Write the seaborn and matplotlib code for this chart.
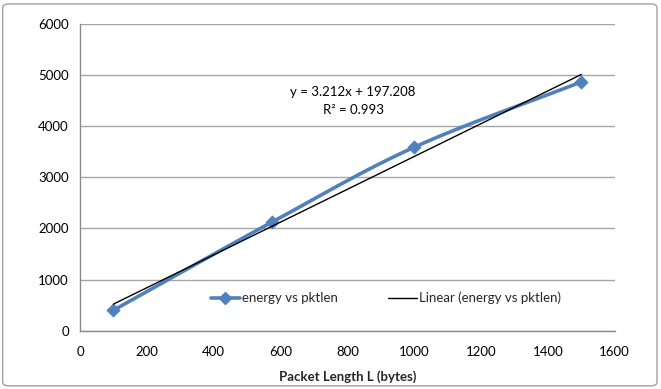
import numpy as np
import pandas as pd
import matplotlib
matplotlib.use("Agg")
import matplotlib.pyplot as plt
import seaborn as sns
from matplotlib.lines import Line2D
from matplotlib.patches import FancyBboxPatch

# ---- data ----
pkt_len = [100, 576, 1000, 1500]
energy = [400, 2130, 3590, 4870]
series_name = "energy vs pktlen"
trend_name = "Linear (energy vs pktlen)"
eq_text = "y = 3.212x + 197.208"
r2_text = "R² = 0.993"
x_ticks = [0, 200, 400, 600, 800, 1000, 1200, 1400, 1600]
y_ticks = [0, 1000, 2000, 3000, 4000, 5000, 6000]
x_label = "Packet Length L (bytes)"

df = pd.DataFrame({"x": pkt_len, "y": energy})

sns.set_theme(style="white")
plt.rcParams["font.family"] = ["Lato", "DejaVu Sans"]

fig = plt.figure(figsize=(6.61, 3.89), dpi=100)
ax = fig.add_axes([0.121, 0.150, 0.809, 0.788])

blue = "#4F81BD"

# smoothed line (Catmull-Rom through the data points, as Excel's smoothed line)
def catmull_rom(xs, ys, n=40):
    px = np.array(xs, float); py = np.array(ys, float)
    px = np.concatenate([[2*px[0]-px[1]], px, [2*px[-1]-px[-2]]])
    py = np.concatenate([[2*py[0]-py[1]], py, [2*py[-1]-py[-2]]])
    outx, outy = [], []
    for i in range(1, len(px) - 2):
        t = np.linspace(0, 1, n)
        p0, p1, p2, p3 = [np.array([px[j], py[j]]) for j in (i-1, i, i+1, i+2)]
        c1 = p1 + (p2 - p0) / 6.0
        c2 = p2 - (p3 - p1) / 6.0
        pts = ((1-t)**3)[:, None]*p1 + (3*(1-t)**2*t)[:, None]*c1 + (3*(1-t)*t**2)[:, None]*c2 + (t**3)[:, None]*p2
        outx.extend(pts[:, 0]); outy.extend(pts[:, 1])
    return np.array(outx), np.array(outy)

sx, sy = catmull_rom(pkt_len, energy)
smooth = pd.DataFrame({"x": sx, "y": sy})
sns.lineplot(data=smooth, x="x", y="y", ax=ax, color=blue, linewidth=2.6,
             sort=False, estimator=None, zorder=3)
sns.scatterplot(data=df, x="x", y="y", ax=ax, marker="D", s=45, color=blue,
                edgecolor=blue, zorder=4)

# linear trendline
slope, intercept = np.polyfit(pkt_len, energy, 1)
tx = np.array([min(pkt_len), max(pkt_len)])
trend = pd.DataFrame({"x": tx, "y": slope * tx + intercept})
sns.lineplot(data=trend, x="x", y="y", ax=ax, color="black", linewidth=1.0, zorder=5)

ax.text(817, 4670, eq_text, ha="center", va="center", fontsize=9.5, color="black")
ax.text(817, 4320, r2_text, ha="center", va="center", fontsize=9.5, color="black")

ax.set_xlim(0, 1600)
ax.set_ylim(0, 6000)
ax.set_xticks(x_ticks)
ax.set_yticks(y_ticks)
ax.set_xticklabels([str(v) for v in x_ticks], fontsize=9.5)
ax.set_yticklabels([str(v) for v in y_ticks], fontsize=9.5)
ax.set_xlabel(x_label, fontsize=9.5, fontweight="bold", labelpad=9)
ax.set_ylabel("")

ax.yaxis.grid(True, color="#a6a6a6", linewidth=1.0)
ax.xaxis.grid(False)
ax.set_axisbelow(True)
for s in ["top", "right"]:
    ax.spines[s].set_visible(False)
for s in ["left", "bottom"]:
    ax.spines[s].set_color("#8c8c8c")
    ax.spines[s].set_linewidth(1.0)
ax.tick_params(axis="both", which="both", direction="out", length=4, width=1,
               color="#8c8c8c", pad=4, labelcolor="black")
ax.tick_params(axis="x", pad=7)

handles = [
    Line2D([0], [0], color=blue, linewidth=2.6, marker="D", markersize=6.5),
    Line2D([0], [0], color="black", linewidth=1.0),
]
leg = ax.legend(handles, [series_name, trend_name], loc="center",
                bbox_to_anchor=(0.572, 0.107), ncol=2, frameon=False,
                fontsize=9.5, handlelength=2.2, handletextpad=0.15,
                columnspacing=3.8)

fig.patches.append(FancyBboxPatch((0.004, 0.008), 0.99, 0.982,
                                  boxstyle="round,pad=0,rounding_size=0.01",
                                  transform=fig.transFigure, fill=False,
                                  edgecolor="#a0a0a0", linewidth=1.0))

fig.savefig("out.png", dpi=100)
